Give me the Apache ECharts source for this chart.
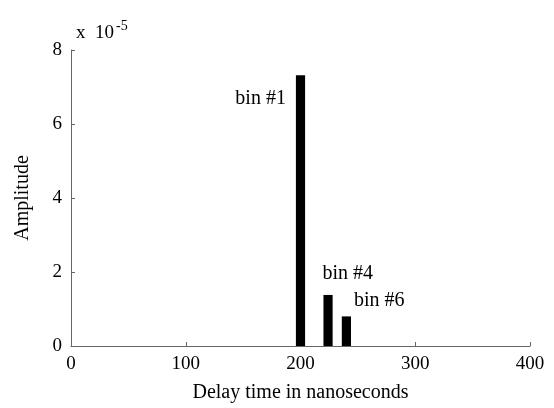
<!DOCTYPE html>
<html>
<head>
<meta charset="utf-8">
<script src="https://cdn.jsdelivr.net/npm/echarts@6/dist/echarts.min.js"></script>
<style>
  html, body { margin: 0; padding: 0; background: #fff; }
  #chart { width: 554px; height: 408px; }
</style>
</head>
<body>
<div id="chart"></div>
<script>
// delay bins (ns) and their amplitudes, in units of 1e-5
const delayNs = [200, 224, 240];
const amplitudeE5 = [7.32, 1.38, 0.80];
const binLabels = ['bin #1', 'bin #4', 'bin #6'];
const binWidthNs = 8;
const xTicks = [0, 100, 200, 300, 400];
const yTicks = [0, 2, 4, 6, 8];

const serif = 'Liberation Serif';
// where each bin label sits relative to its bar (px)
const labelPlace = [
  { side: 'left', dx: -10, dy: 24, align: 'right' },
  { side: 'left', dx: -1, dy: -21, align: 'left' },
  { side: 'right', dx: 3, dy: -16, align: 'left' }
];

const chart = echarts.init(document.getElementById('chart'));

const option = {
  animation: false,
  textStyle: { fontFamily: serif },
  title: {
    text: 'x  10{sup|-5}',
    left: 71,
    top: 14,
    textStyle: {
      fontFamily: serif,
      fontSize: 19,
      fontWeight: 'normal',
      color: '#000',
      rich: {
        sup: { fontFamily: serif, fontSize: 14, color: '#000', verticalAlign: 'top', padding: [0, 0, 14, 2] }
      }
    }
  },
  grid: { left: 71, right: 24, top: 50, bottom: 61 },
  xAxis: {
    type: 'value',
    min: xTicks[0],
    max: xTicks[xTicks.length - 1],
    interval: 100,
    name: 'Delay time in nanoseconds',
    nameLocation: 'middle',
    nameGap: 37,
    nameTextStyle: { fontFamily: serif, fontSize: 20, color: '#000' },
    axisLine: { show: true, lineStyle: { color: '#666', width: 1 } },
    axisTick: { show: true, inside: true, length: 4, lineStyle: { color: '#666' } },
    axisLabel: { fontFamily: serif, fontSize: 19, color: '#000', margin: 9 },
    splitLine: { show: false }
  },
  yAxis: {
    type: 'value',
    min: yTicks[0],
    max: yTicks[yTicks.length - 1],
    interval: 2,
    name: 'Amplitude',
    nameLocation: 'middle',
    nameGap: 38,
    nameTextStyle: { fontFamily: serif, fontSize: 20, color: '#000' },
    axisLine: { show: true, lineStyle: { color: '#666', width: 1 } },
    axisTick: { show: true, inside: true, length: 4, lineStyle: { color: '#666' } },
    axisLabel: { fontFamily: serif, fontSize: 19, color: '#000', margin: 9 },
    splitLine: { show: false }
  },
  series: [{
    type: 'custom',
    data: delayNs.map((d, i) => [d, amplitudeE5[i]]),
    renderItem: function (params, api) {
      const x = api.value(0);
      const y = api.value(1);
      const topLeft = api.coord([x - binWidthNs / 2, y]);
      const bottomRight = api.coord([x + binWidthNs / 2, 0]);
      const p = labelPlace[params.dataIndex];
      const ax = p.side === 'left' ? topLeft[0] : bottomRight[0];
      return {
        type: 'group',
        children: [
          {
            type: 'rect',
            shape: {
              x: topLeft[0],
              y: topLeft[1],
              width: bottomRight[0] - topLeft[0],
              height: bottomRight[1] - topLeft[1]
            },
            style: { fill: '#000' }
          },
          {
            type: 'text',
            x: ax + p.dx,
            y: topLeft[1] + p.dy,
            style: {
              text: binLabels[params.dataIndex],
              fontFamily: serif,
              fontSize: 20,
              fill: '#000',
              align: p.align,
              verticalAlign: 'middle'
            }
          }
        ]
      };
    }
  }]
};

chart.setOption(option);
</script>
</body>
</html>
